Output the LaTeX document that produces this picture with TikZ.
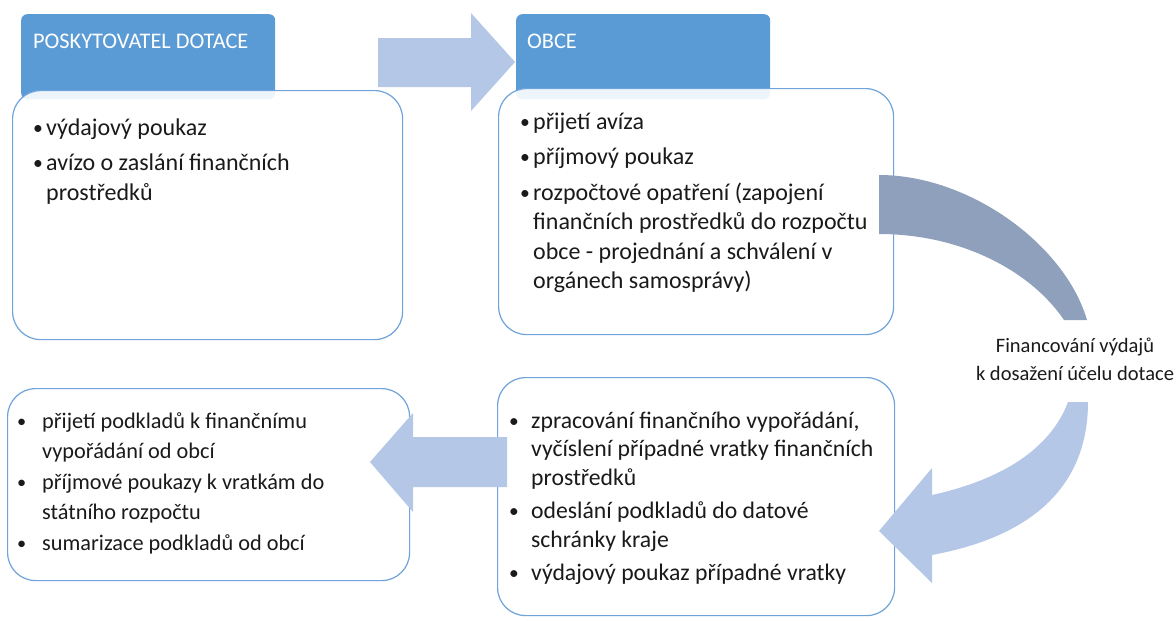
\documentclass[tikz,border=0pt]{standalone}
\usepackage{fontspec}
\setmainfont{Carlito}
\definecolor{hdrblue}{HTML}{5B9BD5}
\definecolor{boxline}{HTML}{6FA3DA}
\definecolor{arrowlight}{HTML}{B4C7E7}
\definecolor{arrowdark}{HTML}{8FA0BC}
\definecolor{txt}{HTML}{1A1A1A}
\newcommand{\bitem}[2]{\hbox{\makebox[#1][l]{\raisebox{0.6pt}{\scalebox{0.82}{\textbullet}}}#2}}
\newcommand{\citem}[2]{\hbox{\hspace*{#1}#2}}
\begin{document}
\begin{tikzpicture}[x=1pt,y=-1pt,
  hdrbox/.style={draw=none, fill=hdrblue, rounded corners=6pt, rectangle, inner sep=0pt, anchor=north west},
  bodybox/.style={draw=boxline, line width=1.2pt, fill=white, fill opacity=0.9, rounded corners=28pt, rectangle, inner sep=0pt, anchor=north west},
  hdrtext/.style={anchor=base west, inner sep=0pt, text=white, font=\fontsize{22.3}{26}\selectfont},
  bodytext/.style={anchor=base west, inner sep=0pt, text=txt},
  lbltext/.style={anchor=base, inner sep=0pt, text=txt, font=\fontsize{20.5}{28}\selectfont},
  lightarrow/.style={fill=arrowlight, draw=none},
  darkarrow/.style={fill=arrowdark, draw=none}]
\useasboundingbox (0,0) rectangle (1176,621);

% headers
\node[hdrbox, minimum width=254pt, minimum height=85pt] (h1) at (21,14) {};
\node[hdrbox, minimum width=254pt, minimum height=85pt] (h2) at (516,14) {};

% body boxes
\node[bodybox, minimum width=390pt, minimum height=249pt] (b1) at (12,90) {};
\node[bodybox, minimum width=395pt, minimum height=246pt] (b2) at (498,88) {};
\node[bodybox, minimum width=402pt, minimum height=192pt] (b3) at (7,388) {};
\node[bodybox, minimum width=397pt, minimum height=238pt] (b4) at (497,377) {};

% straight block arrows
\fill[lightarrow] (378,38) -- (471,38) -- (471,13) -- (515,62) -- (471,111) -- (471,87) -- (378,87) -- cycle;
\fill[lightarrow] (507,437) -- (413,437) -- (413,413) -- (370,462) -- (413,512) -- (413,487) -- (507,487) -- cycle;

% curved arrow, upper (dark) part
\fill[darkarrow] (879,175) .. controls (970,175) and (1065,245) .. (1087,320)
  -- (1064,320) .. controls (1030,270) and (960,234) .. (879,234) -- cycle;
% curved arrow, lower (light) part with head
\fill[lightarrow] (1068,402) -- (1088,402) .. controls (1088,480) and (1040,535) .. (932,555)
  -- (932,583) -- (879,531) -- (932,468) -- (932,495)
  .. controls (1000,480) and (1050,450) .. (1068,402) -- cycle;

% header texts
\node[hdrtext] (h1t) at (33,48) {POSKYTOVATEL DOTACE};
\node[hdrtext] (h2t) at (527,48) {OBCE};

% body texts
\node[bodytext] (b1t) at (33,135) {\vtop{\fontsize{24}{30.5}\selectfont
  \bitem{13pt}{výdajový poukaz}\vskip4.5pt
  \bitem{13pt}{avízo o zaslání finančních}
  \citem{13pt}{prostředků}}};

\node[bodytext] (b2t) at (520,129) {\vtop{\fontsize{24}{29.5}\selectfont
  \bitem{13pt}{přijetí avíza}\vskip6pt
  \bitem{13pt}{příjmový poukaz}\vskip6pt
  \bitem{13pt}{rozpočtové opatření (zapojení}
  \citem{13pt}{finančních prostředků do rozpočtu}
  \citem{13pt}{obce - projednání a schválení v}
  \citem{13pt}{orgánech samosprávy)}}};

\node[bodytext] (b3t) at (17,428) {\vtop{\fontsize{22.3}{30}\selectfont
  \bitem{25pt}{přijetí podkladů k finančnímu}
  \citem{25pt}{vypořádání od obcí}\vskip1pt
  \bitem{25pt}{příjmové poukazy k vratkám do}
  \citem{25pt}{státního rozpočtu}\vskip1pt
  \bitem{25pt}{sumarizace podkladů od obcí}}};

\node[bodytext] (b4t) at (509,428) {\vtop{\fontsize{23.7}{28.5}\selectfont
  \bitem{22pt}{zpracování finančního vypořádání,}
  \citem{22pt}{vyčíslení případné vratky finančních}
  \citem{22pt}{prostředků}\vskip5pt
  \bitem{22pt}{odeslání podkladů do datové}
  \citem{22pt}{schránky kraje}\vskip5pt
  \bitem{22pt}{výdajový poukaz případné vratky}}};

% label of the curved arrow
\node[lbltext] (lbl) at (1075,352) {\vtop{%
  \hbox to 0pt{\hss Financování výdajů\hss}
  \hbox to 0pt{\hss k dosažení účelu dotace\hss}}};
\end{tikzpicture}
\end{document}
